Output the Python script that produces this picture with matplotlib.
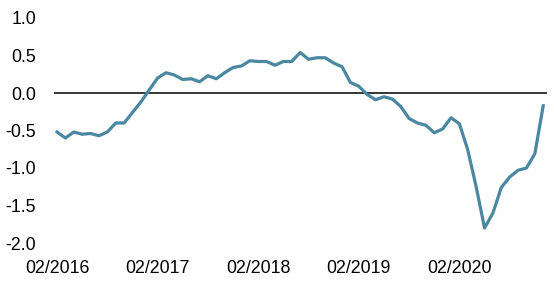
import matplotlib
matplotlib.use("Agg")
import matplotlib.pyplot as plt
import numpy as np

# Monthly values, 02/2016 .. 12/2020
values = [
    -0.52, -0.60, -0.52, -0.55, -0.54, -0.57, -0.52, -0.40, -0.40, -0.26,
    -0.12, 0.04, 0.20, 0.27, 0.24, 0.18, 0.19, 0.15, 0.23, 0.19,
    0.27, 0.34, 0.36, 0.43, 0.42, 0.42, 0.37, 0.42, 0.42, 0.54,
    0.45, 0.47, 0.47, 0.40, 0.35, 0.14, 0.09, -0.02, -0.09, -0.05,
    -0.08, -0.18, -0.34, -0.40, -0.43, -0.53, -0.48, -0.33, -0.41, -0.76,
    -1.25, -1.80, -1.60, -1.26, -1.12, -1.03, -1.00, -0.81, -0.17,
]
tick_positions = [0, 12, 24, 36, 48]
tick_labels = ["02/2016", "02/2017", "02/2018", "02/2019", "02/2020"]
y_ticks = [1.0, 0.5, 0.0, -0.5, -1.0, -1.5, -2.0]

plt.rcParams['font.family'] = ['Liberation Sans', 'DejaVu Sans']

W, H = 554, 284
fig = plt.figure(figsize=(W / 100, H / 100), dpi=100)
left, right, top, bottom = 54, 547, 18, 243
ax = fig.add_axes([left / W, 1 - bottom / H, (right - left) / W, (bottom - top) / H])

x = np.arange(len(values))
ax.axhline(0, color="black", lw=1.1, zorder=1)
ax.plot(x, values, color="#4a87a0", lw=2.3, zorder=2, solid_joinstyle="round")

ax.set_xlim(-0.36, len(values) - 1 + 0.45)
ax.set_ylim(-2.0, 1.0)
ax.set_xticks(tick_positions)
ax.set_xticklabels(tick_labels)
ax.set_yticks(y_ticks)
ax.set_yticklabels([f"{v:.1f}" for v in y_ticks])
ax.tick_params(axis="both", length=0, labelsize=12.8, colors="black")
ax.tick_params(axis="x", pad=12)
ax.tick_params(axis="y", pad=13)
for s in ax.spines.values():
    s.set_visible(False)
ax.patch.set_alpha(0)

fig.savefig("out.png", dpi=100)
